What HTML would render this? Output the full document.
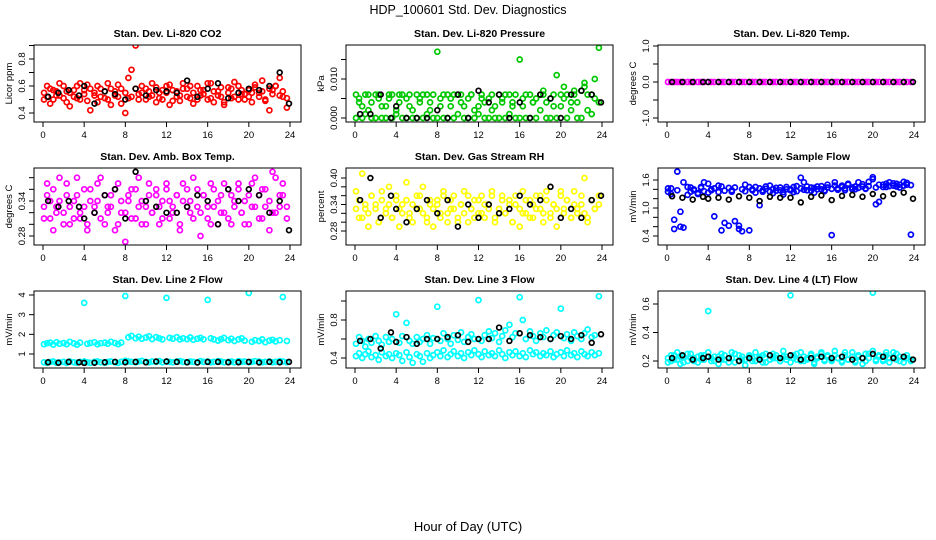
<!DOCTYPE html>
<html><head><meta charset="utf-8"><style>
html,body{margin:0;padding:0;background:#fff;}
svg{display:block;font-family:"Liberation Sans",sans-serif;}
</style></head><body>
<svg id="chart" width="936" height="540" viewBox="0 0 936 540" xmlns="http://www.w3.org/2000/svg">
<rect x="0" y="0" width="936" height="540" fill="#fff"/>
<text x="468" y="14" text-anchor="middle" font-size="12.5">HDP_100601  Std. Dev. Diagnostics</text>
<text x="468" y="531" text-anchor="middle" font-size="13">Hour of Day (UTC)</text>
</svg>
<script>
const hours = [0.1,0.4,0.7,1.0,1.3,1.6,2.0,2.3,2.6,3.0,3.3,3.6,4.0,4.3,4.6,5.0,5.3,5.6,6.0,6.3,6.6,7.0,7.3,7.6,8.0,8.3,8.6,9.0,9.3,9.6,10.0,10.3,10.6,11.0,11.3,11.6,12.0,12.3,12.6,13.0,13.3,13.6,14.0,14.3,14.6,15.0,15.3,15.6,16.0,16.3,16.6,17.0,17.3,17.6,18.0,18.3,18.6,19.0,19.3,19.6,20.0,20.3,20.6,21.0,21.3,21.6,22.0,22.3,22.6,23.0,23.3,23.7];
const blackHours = [0.5,1.5,2.5,3.5,4.0,5.0,6.0,7.0,8.0,9.0,10.0,11.0,12.0,13.0,14.0,15.0,16.0,17.0,18.0,19.0,20.0,21.0,22.0,23.0,23.9];
const xTicks = [0,4,8,12,16,20,24];

const co2A = [0.55,0.52,0.58,0.50,0.56,0.53,0.60,0.48,0.55,0.57,0.51,0.62,0.54,0.49,0.58,0.55,0.60,0.52,0.56,0.50,0.58,0.53,0.61,0.47,0.55,0.66,0.52,0.58,0.54,0.60,0.50,0.56,0.53,0.59,0.51,0.57,0.55,0.61,0.49,0.56,0.53,0.58,0.52,0.60,0.55,0.50,0.57,0.54,0.62,0.51,0.56,0.53,0.59,0.48,0.55,0.58,0.52,0.60,0.54,0.50,0.57,0.55,0.61,0.52,0.56,0.49,0.58,0.54,0.60,0.53,0.56,0.51];
const co2B = [0.50,0.60,0.47,0.57,0.53,0.62,0.51,0.56,0.45,0.52,0.60,0.50,0.57,0.61,0.42,0.53,0.48,0.58,0.51,0.62,0.46,0.56,0.52,0.58,0.40,0.51,0.72,0.90,0.50,0.55,0.58,0.52,0.62,0.48,0.55,0.50,0.60,0.46,0.57,0.52,0.49,0.62,0.58,0.51,0.47,0.60,0.53,0.57,0.50,0.62,0.48,0.56,0.52,0.46,0.59,0.51,0.63,0.50,0.57,0.54,0.52,0.48,0.59,0.55,0.64,0.50,0.42,0.57,0.60,0.66,0.52,0.44];
const co2K = [0.52,0.55,0.57,0.53,0.60,0.47,0.56,0.54,0.50,0.58,0.53,0.57,0.56,0.55,0.64,0.52,0.58,0.62,0.51,0.55,0.58,0.57,0.60,0.70,0.47];

const presA = [0.006,0.004,0.000,0.006,0.002,0.000,0.006,0.005,0.000,0.003,0.006,0.000,0.002,0.006,0.000,0.005,0.003,0.000,0.006,0.004,0.000,0.006,0.002,0.000,0.017,0.005,0.000,0.006,0.003,0.000,0.006,0.004,0.000,0.005,0.006,0.000,0.003,0.006,0.000,0.005,0.002,0.000,0.006,0.004,0.000,0.006,0.003,0.000,0.015,0.005,0.000,0.006,0.004,0.000,0.006,0.007,0.000,0.005,0.003,0.000,0.006,0.008,0.000,0.004,0.006,0.000,0.007,0.009,0.002,0.006,0.005,0.018];
const presB = [0.000,0.005,0.003,0.001,0.006,0.004,0.000,0.006,0.003,0.000,0.005,0.006,0.001,0.004,0.006,0.000,0.006,0.002,0.000,0.005,0.006,0.001,0.004,0.006,0.000,0.003,0.006,0.000,0.005,0.006,0.001,0.006,0.003,0.000,0.006,0.002,0.001,0.005,0.004,0.000,0.006,0.003,0.000,0.005,0.006,0.001,0.004,0.006,0.000,0.003,0.006,0.000,0.004,0.005,0.002,0.006,0.004,0.000,0.006,0.011,0.003,0.005,0.006,0.002,0.007,0.004,0.000,0.008,0.006,0.001,0.010,0.004];
const presK = [0.001,0.001,0.006,0.000,0.003,0.000,0.000,0.000,0.002,0.000,0.006,0.000,0.007,0.004,0.006,0.000,0.004,0.000,0.006,0.005,0.000,0.006,0.007,0.006,0.004];

const tempA = [0,0,0,0,0,0,0,0,0,0,0,0,0,0,0,0,0,0,0,0,0,0,0,0,0,0,0,0,0,0,0,0,0,0,0,0,0,0,0,0,0,0,0,0,0,0,0,0,0,0,0,0,0,0,0,0,0,0,0,0,0,0,0,0,0,0,0,0,0,0,0,0];
const tempK = [0,0,0,0,0,0,0,0,0,0,0,0,0,0,0,0,0,0,0,0,0,0,0,0,0];

const ambA = [0.33,0.35,0.31,0.36,0.32,0.34,0.30,0.37,0.33,0.31,0.35,0.32,0.36,0.30,0.34,0.33,0.37,0.31,0.35,0.32,0.33,0.36,0.30,0.34,0.32,0.35,0.31,0.36,0.33,0.34,0.30,0.37,0.32,0.35,0.33,0.31,0.36,0.34,0.32,0.35,0.30,0.37,0.33,0.34,0.31,0.36,0.32,0.35,0.33,0.30,0.36,0.34,0.32,0.37,0.31,0.35,0.33,0.36,0.32,0.34,0.30,0.37,0.33,0.35,0.31,0.36,0.34,0.32,0.38,0.33,0.35,0.31];
const ambB = [0.31,0.37,0.34,0.29,0.33,0.38,0.32,0.35,0.30,0.34,0.38,0.31,0.33,0.29,0.36,0.32,0.34,0.38,0.30,0.33,0.35,0.29,0.37,0.32,0.27,0.34,0.36,0.31,0.38,0.30,0.33,0.35,0.32,0.36,0.30,0.34,0.37,0.31,0.33,0.35,0.29,0.34,0.36,0.32,0.38,0.33,0.28,0.35,0.31,0.37,0.33,0.30,0.35,0.32,0.36,0.30,0.34,0.37,0.32,0.30,0.35,0.33,0.38,0.31,0.36,0.33,0.29,0.39,0.32,0.35,0.37,0.33];
const ambK = [0.34,0.33,0.34,0.33,0.31,0.32,0.35,0.36,0.31,0.39,0.34,0.33,0.32,0.32,0.33,0.35,0.34,0.30,0.36,0.34,0.36,0.35,0.32,0.34,0.29];

const rhA = [0.33,0.35,0.31,0.34,0.32,0.36,0.33,0.30,0.35,0.32,0.34,0.31,0.36,0.33,0.32,0.35,0.31,0.34,0.33,0.36,0.32,0.30,0.35,0.33,0.34,0.31,0.36,0.32,0.35,0.33,0.30,0.34,0.32,0.36,0.33,0.31,0.35,0.32,0.34,0.33,0.36,0.31,0.33,0.35,0.32,0.34,0.30,0.36,0.33,0.32,0.35,0.31,0.34,0.33,0.36,0.32,0.35,0.31,0.34,0.33,0.37,0.32,0.35,0.31,0.34,0.33,0.36,0.32,0.30,0.35,0.33,0.34];
const rhB = [0.37,0.31,0.41,0.33,0.29,0.36,0.34,0.30,0.37,0.33,0.38,0.31,0.35,0.29,0.34,0.39,0.32,0.30,0.36,0.33,0.38,0.31,0.34,0.29,0.35,0.32,0.37,0.30,0.33,0.36,0.31,0.34,0.37,0.30,0.33,0.35,0.32,0.36,0.31,0.34,0.37,0.30,0.33,0.36,0.32,0.35,0.30,0.34,0.29,0.37,0.32,0.35,0.31,0.36,0.33,0.30,0.37,0.32,0.34,0.29,0.36,0.33,0.35,0.31,0.37,0.32,0.34,0.40,0.31,0.35,0.33,0.36];
const rhK = [0.35,0.40,0.31,0.36,0.33,0.30,0.33,0.35,0.32,0.35,0.29,0.34,0.31,0.34,0.32,0.33,0.36,0.34,0.35,0.38,0.31,0.33,0.31,0.35,0.36];

const sampA = [1.42,1.30,0.75,1.38,0.60,0.58,1.45,1.35,1.40,1.32,1.45,1.36,1.52,1.38,1.42,1.34,1.46,0.68,0.62,1.38,1.44,0.55,0.50,1.36,1.45,1.40,1.33,1.42,1.38,1.46,1.35,1.41,1.37,1.44,1.34,1.40,1.38,1.45,1.36,1.42,1.39,1.46,1.37,1.43,1.40,1.47,1.38,1.44,1.41,1.48,1.39,1.45,1.42,1.50,1.40,1.46,1.43,1.51,1.41,1.47,1.62,1.44,1.50,1.45,1.52,1.47,1.53,1.46,1.50,1.48,1.54,1.49];
const sampB = [1.35,1.42,0.55,1.78,0.92,1.55,1.28,1.44,1.38,1.30,1.43,1.55,1.33,1.40,0.82,1.48,0.52,1.37,1.43,1.35,0.72,0.62,1.40,1.50,0.52,1.38,1.45,1.06,1.35,1.41,1.48,1.32,1.43,1.38,1.29,1.45,1.40,1.34,1.47,1.65,1.55,1.38,1.44,1.33,1.46,1.40,1.36,1.50,0.42,1.55,1.42,1.48,1.38,1.52,1.44,1.40,1.55,1.46,1.42,1.56,1.66,1.08,1.13,1.50,1.45,1.55,1.48,1.52,1.44,1.56,1.50,0.43];
const sampK = [1.25,1.22,1.18,1.24,1.20,1.22,1.18,1.25,1.22,1.15,1.24,1.22,1.22,1.12,1.24,1.27,1.17,1.26,1.28,1.24,1.30,1.25,1.30,1.33,1.20];

const l2A = [1.50,1.55,1.58,1.48,1.60,1.52,1.56,1.50,1.62,1.54,1.48,1.58,3.60,1.52,1.56,1.60,1.50,1.55,1.58,1.52,1.62,1.56,1.50,1.58,3.95,1.85,1.92,1.80,1.88,1.78,1.84,1.90,1.76,1.86,1.80,1.74,3.85,1.82,1.78,1.86,1.74,1.80,1.76,1.84,1.72,1.78,1.82,1.75,3.75,1.80,1.74,1.68,1.76,1.82,1.70,1.78,1.66,1.74,1.80,1.68,4.10,1.62,1.70,1.66,1.74,1.60,1.68,1.72,1.64,1.70,3.90,1.66];
const l2B = [0.58,0.55,0.60,0.62,0.56,0.58,0.60,0.55,0.62,0.58,0.56,0.60,0.62,0.58,0.55,0.60,0.62,0.58,0.56,0.60,0.62,0.58,0.55,0.60,0.66,0.62,0.60,0.58,0.62,0.65,0.60,0.58,0.62,0.60,0.64,0.58,0.62,0.60,0.58,0.62,0.64,0.60,0.58,0.62,0.60,0.58,0.64,0.60,0.62,0.58,0.60,0.64,0.62,0.58,0.60,0.62,0.58,0.64,0.60,0.62,0.58,0.60,0.64,0.62,0.58,0.60,0.62,0.58,0.60,0.64,0.62,0.58];
const l2K = [0.58,0.56,0.60,0.58,0.55,0.56,0.58,0.60,0.58,0.60,0.58,0.62,0.62,0.60,0.58,0.57,0.60,0.60,0.58,0.58,0.60,0.57,0.60,0.58,0.60];

const l3A = [0.55,0.62,0.58,0.52,0.60,0.56,0.63,0.58,0.54,0.62,0.57,0.60,0.86,0.56,0.63,0.77,0.58,0.55,0.62,0.57,0.60,0.64,0.55,0.61,0.94,0.58,0.66,0.60,0.55,0.64,0.59,0.67,0.57,0.62,0.65,0.60,1.01,0.58,0.64,0.68,0.61,0.66,0.57,0.63,0.69,0.75,0.62,0.66,1.04,0.80,0.60,0.68,0.63,0.58,0.66,0.62,0.69,0.60,0.64,0.67,0.92,0.61,0.65,0.58,0.67,0.63,0.60,0.66,0.70,0.62,0.64,1.05];
const l3B = [0.42,0.45,0.40,0.44,0.47,0.41,0.43,0.38,0.46,0.42,0.44,0.40,0.45,0.43,0.37,0.46,0.41,0.35,0.44,0.42,0.36,0.45,0.40,0.43,0.46,0.42,0.48,0.41,0.44,0.47,0.42,0.45,0.40,0.46,0.43,0.48,0.44,0.41,0.47,0.43,0.45,0.42,0.48,0.44,0.40,0.46,0.43,0.47,0.42,0.45,0.41,0.48,0.44,0.46,0.42,0.45,0.43,0.47,0.41,0.44,0.46,0.42,0.48,0.43,0.45,0.41,0.47,0.44,0.42,0.46,0.43,0.45];
const l3K = [0.58,0.60,0.50,0.67,0.57,0.62,0.55,0.60,0.60,0.62,0.64,0.57,0.60,0.60,0.72,0.58,0.66,0.64,0.62,0.60,0.63,0.60,0.64,0.56,0.65];

const l4A = [0.22,0.20,0.24,0.21,0.23,0.19,0.25,0.22,0.20,0.23,0.21,0.24,0.55,0.22,0.20,0.23,0.21,0.24,0.19,0.22,0.25,0.20,0.23,0.21,0.24,0.22,0.20,0.23,0.19,0.25,0.21,0.22,0.24,0.20,0.23,0.21,0.66,0.22,0.25,0.20,0.23,0.21,0.24,0.19,0.22,0.25,0.20,0.23,0.21,0.24,0.22,0.20,0.26,0.21,0.23,0.19,0.24,0.22,0.20,0.25,0.68,0.21,0.23,0.20,0.24,0.22,0.26,0.21,0.23,0.19,0.22,0.20];
const l4B = [0.19,0.24,0.21,0.26,0.18,0.23,0.20,0.25,0.22,0.19,0.24,0.21,0.26,0.20,0.23,0.18,0.25,0.21,0.22,0.26,0.19,0.24,0.21,0.17,0.23,0.20,0.26,0.22,0.24,0.19,0.21,0.25,0.22,0.20,0.27,0.23,0.19,0.24,0.21,0.26,0.20,0.22,0.25,0.18,0.23,0.26,0.21,0.24,0.20,0.27,0.22,0.19,0.24,0.21,0.26,0.20,0.23,0.18,0.25,0.22,0.27,0.20,0.24,0.21,0.26,0.19,0.23,0.25,0.20,0.22,0.24,0.21];
const l4K = [0.22,0.24,0.21,0.22,0.23,0.21,0.22,0.20,0.22,0.21,0.24,0.22,0.24,0.21,0.22,0.23,0.22,0.23,0.21,0.22,0.25,0.23,0.22,0.23,0.21];

const panelTitles = ["Stan. Dev. Li-820 CO2","Stan. Dev. Li-820 Pressure","Stan. Dev. Li-820 Temp.","Stan. Dev. Amb. Box Temp.","Stan. Dev. Gas Stream RH","Stan. Dev. Sample Flow","Stan. Dev. Line 2 Flow","Stan. Dev. Line 3 Flow","Stan. Dev. Line 4 (LT) Flow"];
const yTitles = ["Licor ppm","kPa","degrees C","degrees C","percent","mV/min","mV/min","mV/min","mV/min"];
const yTickVals = [[0.4,0.5,0.6,0.7,0.8,0.9],[0,0.005,0.010,0.015],[-1,-0.5,0,0.5,1],[0.28,0.30,0.32,0.34,0.36,0.38],[0.28,0.30,0.32,0.34,0.36,0.38,0.40],[0.4,0.6,0.8,1.0,1.2,1.4,1.6],[1,2,3,4],[0.4,0.6,0.8,1.0],[0.2,0.4,0.6]];
const yTickLabels = [["0.4","","0.6","","0.8",""],["0.000","","0.010",""],["-1.0","","0.0","","1.0"],["0.28","","","0.34","",""],["0.28","","","0.34","","","0.40"],["0.4","","","1.0","","","1.6"],["1","2","3","4"],["0.4","","0.8",""],["0.2","0.4","0.6"]];
const colorSeries = [[co2A,co2B],[presA,presB],[tempA],[ambA,ambB],[rhA,rhB],[sampA,sampB],[l2A,l2B],[l3A,l3B],[l4A,l4B]];
const blackSeries = [co2K,presK,tempK,ambK,rhK,sampK,l2K,l3K,l4K];
const colors = ["#ff0000","#00c800","#ff00ff","#ff00ff","#ffff00","#0000ff","#00ffff","#00ffff","#00ffff"];
const yCal = [[0.4,68,0.8,14],[0,73,0.010,34],[-1,73,1,1],[0.28,68,0.34,33],[0.28,63,0.40,10],[0.4,68,1.6,12],[1,63,4,4],[0.4,67,0.8,29],[0.2,70,0.6,13]];

const NS = "http://www.w3.org/2000/svg";
const svg = document.getElementById('chart');
function mk(tag, attrs, parent){const e=document.createElementNS(NS,tag);for(const k in attrs)e.setAttribute(k,attrs[k]);(parent||svg).appendChild(e);return e;}

for(let p=0;p<9;p++){
  const col=p%3,row=Math.floor(p/3);
  const bx=34+col*312, by=45+row*123, bw=267, bh=77;
  const x0=43+col*312, x24=290+col*312;
  const xs=h=>x0+(x24-x0)*h/24;
  const c=yCal[p];
  const ys=v=>by+c[1]+(v-c[0])*(c[3]-c[1])/(c[2]-c[0]);
  const g=mk('g',{});
  
  
  const t=mk('text',{x:(bx+bw/2),y:by-8,'text-anchor':'middle','font-size':'10.5','font-weight':'bold'},g);
  t.textContent=panelTitles[p];
  
  
  const clip=mk('clipPath',{id:'c'+p},g);
  mk('rect',{x:bx,y:by,width:bw,height:bh},clip);
  const pts=mk('g',{'clip-path':'url(#c'+p+')',fill:'none','stroke-width':'1.7'},g);
  
  
  colorSeries[p].forEach(arr=>{
    arr.forEach((v,i)=>{
      const ci=mk('circle',{cx:xs(hours[i]).toFixed(1),cy:ys(v).toFixed(1),r:'2.5',stroke:colors[p]},pts);
      
      
    });
  });
  blackSeries[p].forEach((v,i)=>{
    const ci=mk('circle',{cx:xs(blackHours[i]).toFixed(1),cy:ys(v).toFixed(1),r:'2.4',stroke:'#000'},pts);
    
    
  });
  const box=mk('rect',{x:bx,y:by,width:bw,height:bh,fill:'none',stroke:'#000','stroke-width':'1'},g);
  
  
  mk('line',{x1:x0,y1:by+bh,x2:x24,y2:by+bh,stroke:'#000'},g);
  xTicks.forEach(h=>{
    const x=xs(h);
    mk('line',{x1:x,y1:by+bh,x2:x,y2:by+bh+5,stroke:'#000'},g);
    const lt=mk('text',{x:x,y:by+bh+16,'text-anchor':'middle','font-size':'9.5'},g);
    lt.textContent=h;
    
    
  });
  const tv=yTickVals[p];
  mk('line',{x1:bx,y1:ys(tv[0]),x2:bx,y2:Math.max(by,ys(tv[tv.length-1])),stroke:'#000'},g);
  tv.forEach((v,i)=>{
    const y=ys(v);
    if(y<by-1||y>by+bh+1)return;
    mk('line',{x1:bx-5,y1:y,x2:bx,y2:y,stroke:'#000'},g);
    const s=yTickLabels[p][i];
    if(s){
      const yt=mk('text',{x:bx-9,y:y,'text-anchor':'middle','font-size':'9.5',transform:'rotate(-90 '+(bx-9)+' '+y+')'},g);
      yt.textContent=s;
      
      
    }
  });
  const yl=mk('text',{x:bx-22,y:by+bh/2,'text-anchor':'middle','font-size':'9.5',transform:'rotate(-90 '+(bx-22)+' '+(by+bh/2)+')'},g);
  yl.textContent=yTitles[p];
  
  
}
</script>
</body></html>
